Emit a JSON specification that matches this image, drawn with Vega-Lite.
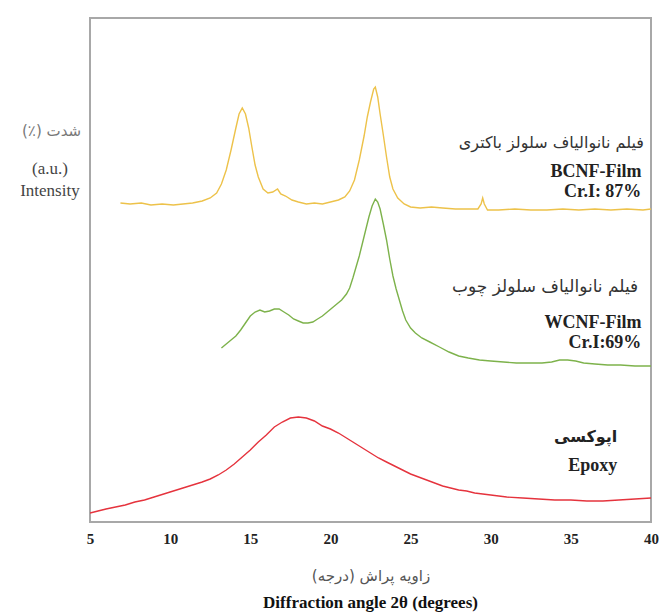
{
  "$schema": "https://vega.github.io/schema/vega-lite/v6.json",
  "width": 561,
  "height": 504,
  "autosize": "none",
  "padding": {"left": 90, "top": 18, "right": 8, "bottom": 93},
  "background": "white",
  "config": {
    "view": {"stroke": "#a8a8a8", "strokeWidth": 2}
  },
  "title": {
    "text": "Diffraction angle 2θ (degrees)",
    "orient": "bottom",
    "frame": "group",
    "anchor": "middle",
    "font": "Liberation Serif",
    "fontSize": 17,
    "fontWeight": "bold",
    "color": "#111",
    "offset": 12
  },
  "datasets": {
    "curves": [
      {"s":"BCNF","x":6.9,"y":319},{"s":"BCNF","x":7.5,"y":318},{"s":"BCNF","x":8.2,"y":319},{"s":"BCNF","x":8.8,"y":317},{"s":"BCNF","x":9.5,"y":318},{"s":"BCNF","x":10.2,"y":317},{"s":"BCNF","x":10.8,"y":318},{"s":"BCNF","x":11.4,"y":319},{"s":"BCNF","x":12.0,"y":321},{"s":"BCNF","x":12.5,"y":324},{"s":"BCNF","x":12.9,"y":329},{"s":"BCNF","x":13.2,"y":338},{"s":"BCNF","x":13.5,"y":352},{"s":"BCNF","x":13.8,"y":372},{"s":"BCNF","x":14.1,"y":394},{"s":"BCNF","x":14.3,"y":408},{"s":"BCNF","x":14.5,"y":414},{"s":"BCNF","x":14.7,"y":408},{"s":"BCNF","x":14.9,"y":394},{"s":"BCNF","x":15.1,"y":375},{"s":"BCNF","x":15.3,"y":357},{"s":"BCNF","x":15.5,"y":345},{"s":"BCNF","x":15.8,"y":333},{"s":"BCNF","x":16.1,"y":329},{"s":"BCNF","x":16.4,"y":330},{"s":"BCNF","x":16.7,"y":333},{"s":"BCNF","x":16.9,"y":328},{"s":"BCNF","x":17.2,"y":326},{"s":"BCNF","x":17.6,"y":322},{"s":"BCNF","x":18.0,"y":320},{"s":"BCNF","x":18.5,"y":318},{"s":"BCNF","x":19.0,"y":319},{"s":"BCNF","x":19.5,"y":318},{"s":"BCNF","x":20.0,"y":320},{"s":"BCNF","x":20.5,"y":322},{"s":"BCNF","x":20.9,"y":325},{"s":"BCNF","x":21.2,"y":331},{"s":"BCNF","x":21.5,"y":342},{"s":"BCNF","x":21.8,"y":362},{"s":"BCNF","x":22.1,"y":386},{"s":"BCNF","x":22.3,"y":405},{"s":"BCNF","x":22.5,"y":420},{"s":"BCNF","x":22.7,"y":433},{"s":"BCNF","x":22.8,"y":435},{"s":"BCNF","x":22.95,"y":425},{"s":"BCNF","x":23.1,"y":408},{"s":"BCNF","x":23.3,"y":387},{"s":"BCNF","x":23.5,"y":365},{"s":"BCNF","x":23.7,"y":345},{"s":"BCNF","x":23.9,"y":333},{"s":"BCNF","x":24.2,"y":324},{"s":"BCNF","x":24.6,"y":318},{"s":"BCNF","x":25.0,"y":315},{"s":"BCNF","x":25.6,"y":314},{"s":"BCNF","x":26.3,"y":315},{"s":"BCNF","x":27.0,"y":314},{"s":"BCNF","x":27.8,"y":313},{"s":"BCNF","x":28.5,"y":313},{"s":"BCNF","x":29.2,"y":313},{"s":"BCNF","x":29.4,"y":318},{"s":"BCNF","x":29.5,"y":324},{"s":"BCNF","x":29.6,"y":318},{"s":"BCNF","x":29.8,"y":312},{"s":"BCNF","x":30.5,"y":312},{"s":"BCNF","x":31.5,"y":313},{"s":"BCNF","x":32.5,"y":312},{"s":"BCNF","x":33.5,"y":312},{"s":"BCNF","x":34.5,"y":313},{"s":"BCNF","x":35.5,"y":312},{"s":"BCNF","x":36.5,"y":313},{"s":"BCNF","x":37.5,"y":312},{"s":"BCNF","x":38.5,"y":313},{"s":"BCNF","x":39.5,"y":312},{"s":"BCNF","x":40,"y":313},
      {"s":"WCNF","x":13.2,"y":174},{"s":"WCNF","x":13.5,"y":178},{"s":"WCNF","x":13.8,"y":182},{"s":"WCNF","x":14.1,"y":186},{"s":"WCNF","x":14.4,"y":192},{"s":"WCNF","x":14.7,"y":199},{"s":"WCNF","x":15.0,"y":206},{"s":"WCNF","x":15.3,"y":210},{"s":"WCNF","x":15.6,"y":212},{"s":"WCNF","x":15.9,"y":210},{"s":"WCNF","x":16.2,"y":211},{"s":"WCNF","x":16.5,"y":213},{"s":"WCNF","x":16.8,"y":213},{"s":"WCNF","x":17.1,"y":210},{"s":"WCNF","x":17.4,"y":207},{"s":"WCNF","x":17.7,"y":203},{"s":"WCNF","x":18.0,"y":201},{"s":"WCNF","x":18.3,"y":199},{"s":"WCNF","x":18.6,"y":199},{"s":"WCNF","x":18.9,"y":200},{"s":"WCNF","x":19.2,"y":203},{"s":"WCNF","x":19.5,"y":206},{"s":"WCNF","x":19.8,"y":210},{"s":"WCNF","x":20.1,"y":214},{"s":"WCNF","x":20.4,"y":218},{"s":"WCNF","x":20.7,"y":222},{"s":"WCNF","x":21.0,"y":228},{"s":"WCNF","x":21.2,"y":234},{"s":"WCNF","x":21.4,"y":244},{"s":"WCNF","x":21.6,"y":255},{"s":"WCNF","x":21.8,"y":266},{"s":"WCNF","x":22.0,"y":279},{"s":"WCNF","x":22.2,"y":292},{"s":"WCNF","x":22.4,"y":305},{"s":"WCNF","x":22.6,"y":316},{"s":"WCNF","x":22.8,"y":323},{"s":"WCNF","x":22.95,"y":320},{"s":"WCNF","x":23.1,"y":313},{"s":"WCNF","x":23.3,"y":298},{"s":"WCNF","x":23.5,"y":282},{"s":"WCNF","x":23.7,"y":263},{"s":"WCNF","x":23.9,"y":246},{"s":"WCNF","x":24.1,"y":233},{"s":"WCNF","x":24.3,"y":222},{"s":"WCNF","x":24.5,"y":211},{"s":"WCNF","x":24.7,"y":202},{"s":"WCNF","x":25.0,"y":194},{"s":"WCNF","x":25.3,"y":189},{"s":"WCNF","x":25.7,"y":184},{"s":"WCNF","x":26.2,"y":180},{"s":"WCNF","x":26.8,"y":175},{"s":"WCNF","x":27.4,"y":170},{"s":"WCNF","x":28.0,"y":166},{"s":"WCNF","x":28.6,"y":164},{"s":"WCNF","x":29.3,"y":162},{"s":"WCNF","x":30.0,"y":161},{"s":"WCNF","x":30.8,"y":160},{"s":"WCNF","x":31.6,"y":159},{"s":"WCNF","x":32.4,"y":159},{"s":"WCNF","x":33.2,"y":159},{"s":"WCNF","x":33.8,"y":160},{"s":"WCNF","x":34.3,"y":162},{"s":"WCNF","x":34.8,"y":162},{"s":"WCNF","x":35.3,"y":161},{"s":"WCNF","x":35.8,"y":159},{"s":"WCNF","x":36.5,"y":158},{"s":"WCNF","x":37.3,"y":157},{"s":"WCNF","x":38.1,"y":157},{"s":"WCNF","x":39.0,"y":156},{"s":"WCNF","x":40,"y":156},
      {"s":"Epoxy","x":5.0,"y":9},{"s":"Epoxy","x":5.5,"y":11},{"s":"Epoxy","x":6.0,"y":13},{"s":"Epoxy","x":6.6,"y":15},{"s":"Epoxy","x":7.2,"y":17},{"s":"Epoxy","x":7.8,"y":20},{"s":"Epoxy","x":8.4,"y":22},{"s":"Epoxy","x":9.0,"y":25},{"s":"Epoxy","x":9.6,"y":28},{"s":"Epoxy","x":10.2,"y":31},{"s":"Epoxy","x":10.8,"y":34},{"s":"Epoxy","x":11.4,"y":37},{"s":"Epoxy","x":12.0,"y":40},{"s":"Epoxy","x":12.5,"y":43},{"s":"Epoxy","x":13.0,"y":47},{"s":"Epoxy","x":13.5,"y":52},{"s":"Epoxy","x":14.0,"y":58},{"s":"Epoxy","x":14.5,"y":65},{"s":"Epoxy","x":15.0,"y":72},{"s":"Epoxy","x":15.5,"y":80},{"s":"Epoxy","x":16.0,"y":87},{"s":"Epoxy","x":16.5,"y":95},{"s":"Epoxy","x":17.0,"y":100},{"s":"Epoxy","x":17.5,"y":104},{"s":"Epoxy","x":18.0,"y":105},{"s":"Epoxy","x":18.5,"y":104},{"s":"Epoxy","x":19.0,"y":101},{"s":"Epoxy","x":19.5,"y":96},{"s":"Epoxy","x":20.0,"y":93},{"s":"Epoxy","x":20.5,"y":89},{"s":"Epoxy","x":21.0,"y":84},{"s":"Epoxy","x":21.5,"y":79},{"s":"Epoxy","x":22.0,"y":74},{"s":"Epoxy","x":22.5,"y":69},{"s":"Epoxy","x":23.0,"y":64},{"s":"Epoxy","x":23.5,"y":60},{"s":"Epoxy","x":24.0,"y":56},{"s":"Epoxy","x":24.5,"y":52},{"s":"Epoxy","x":25.0,"y":48},{"s":"Epoxy","x":25.5,"y":45},{"s":"Epoxy","x":26.0,"y":42},{"s":"Epoxy","x":26.5,"y":39},{"s":"Epoxy","x":27.0,"y":36},{"s":"Epoxy","x":27.5,"y":34},{"s":"Epoxy","x":28.0,"y":32},{"s":"Epoxy","x":28.5,"y":31},{"s":"Epoxy","x":29.0,"y":29},{"s":"Epoxy","x":29.5,"y":28},{"s":"Epoxy","x":30.0,"y":27},{"s":"Epoxy","x":31.0,"y":25},{"s":"Epoxy","x":32.0,"y":24},{"s":"Epoxy","x":33.0,"y":23},{"s":"Epoxy","x":34.0,"y":22},{"s":"Epoxy","x":35.0,"y":22},{"s":"Epoxy","x":36.0,"y":21},{"s":"Epoxy","x":37.0,"y":21},{"s":"Epoxy","x":38.0,"y":22},{"s":"Epoxy","x":39.0,"y":23},{"s":"Epoxy","x":40,"y":24}
    ],
    "faLabels": [
      {"x":39.56,"y":379,"t":"فیلم نانوالیاف سلولز باکتری","z":16},
      {"x":39.2,"y":235,"t":"فیلم نانوالیاف سلولز چوب","z":17}
    ],
    "faBold": [
      {"x":37.9,"y":85,"t":"اپوکسی"}
    ],
    "enLabels": [
      {"x":39.4,"y":350,"t":"BCNF-Film"},
      {"x":39.4,"y":330,"t":"Cr.I: 87%"},
      {"x":39.4,"y":199,"t":"WCNF-Film"},
      {"x":39.4,"y":179,"t":"Cr.I:69%"},
      {"x":37.9,"y":56,"t":"Epoxy"}
    ],
    "yTitle": [
      {"x":2.5,"y":353,"t":"(a.u.)"},
      {"x":2.5,"y":331,"t":"Intensity"}
    ],
    "yTitleFa": [
      {"x":2.6,"y":391,"t":"(٪) شدت"}
    ]
  },
  "layer": [
    {
      "data": {"name": "curves"},
      "mark": {"type": "line", "strokeWidth": 1.4, "clip": true},
      "encoding": {
        "x": {
          "field": "x", "type": "quantitative",
          "scale": {"domain": [5, 40], "nice": false, "zero": false},
          "axis": {
            "values": [5, 10, 15, 20, 25, 30, 35, 40],
            "domain": false, "ticks": false, "grid": false,
            "labelFlush": false,
            "labelFont": "Liberation Serif", "labelFontWeight": "bold", "labelFontSize": 15, "labelColor": "#222",
            "labelPadding": 9,
            "title": "زاویه پراش (درجه)\u200F",
            "titleFont": "DejaVu Sans", "titleFontSize": 15, "titleFontWeight": "normal", "titleColor": "#555",
            "titlePadding": 22
          }
        },
        "y": {
          "field": "y", "type": "quantitative",
          "scale": {"domain": [0, 504], "nice": false},
          "axis": null
        },
        "color": {
          "field": "s", "type": "nominal",
          "scale": {"domain": ["BCNF", "WCNF", "Epoxy"], "range": ["#EDC24A", "#7DB24B", "#E5333D"]},
          "legend": null
        },
        "order": {"field": "x", "type": "quantitative"}
      }
    },
    {
      "data": {"name": "faLabels"},
      "mark": {"type": "text", "align": "right", "baseline": "middle", "font": "DejaVu Sans", "color": "#333"},
      "encoding": {
        "x": {"field": "x", "type": "quantitative"},
        "y": {"field": "y", "type": "quantitative"},
        "size": {"field": "z", "type": "quantitative", "scale": null},
        "text": {"field": "t"}
      }
    },
    {
      "data": {"name": "faBold"},
      "mark": {"type": "text", "align": "right", "baseline": "middle", "font": "DejaVu Sans", "fontSize": 16, "fontWeight": "bold", "color": "#222"},
      "encoding": {
        "x": {"field": "x", "type": "quantitative"},
        "y": {"field": "y", "type": "quantitative"},
        "text": {"field": "t"}
      }
    },
    {
      "data": {"name": "enLabels"},
      "mark": {"type": "text", "align": "right", "baseline": "middle", "font": "Liberation Serif", "fontSize": 18, "fontWeight": "bold", "color": "#222"},
      "encoding": {
        "x": {"field": "x", "type": "quantitative"},
        "y": {"field": "y", "type": "quantitative"},
        "text": {"field": "t"}
      }
    },
    {
      "data": {"name": "yTitle"},
      "mark": {"type": "text", "align": "center", "baseline": "middle", "font": "Liberation Serif", "fontSize": 17, "color": "#444"},
      "encoding": {
        "x": {"field": "x", "type": "quantitative"},
        "y": {"field": "y", "type": "quantitative"},
        "text": {"field": "t"}
      }
    },
    {
      "data": {"name": "yTitleFa"},
      "mark": {"type": "text", "align": "center", "baseline": "middle", "font": "DejaVu Sans", "fontSize": 15, "color": "#777"},
      "encoding": {
        "x": {"field": "x", "type": "quantitative"},
        "y": {"field": "y", "type": "quantitative"},
        "text": {"field": "t"}
      }
    }
  ]
}
